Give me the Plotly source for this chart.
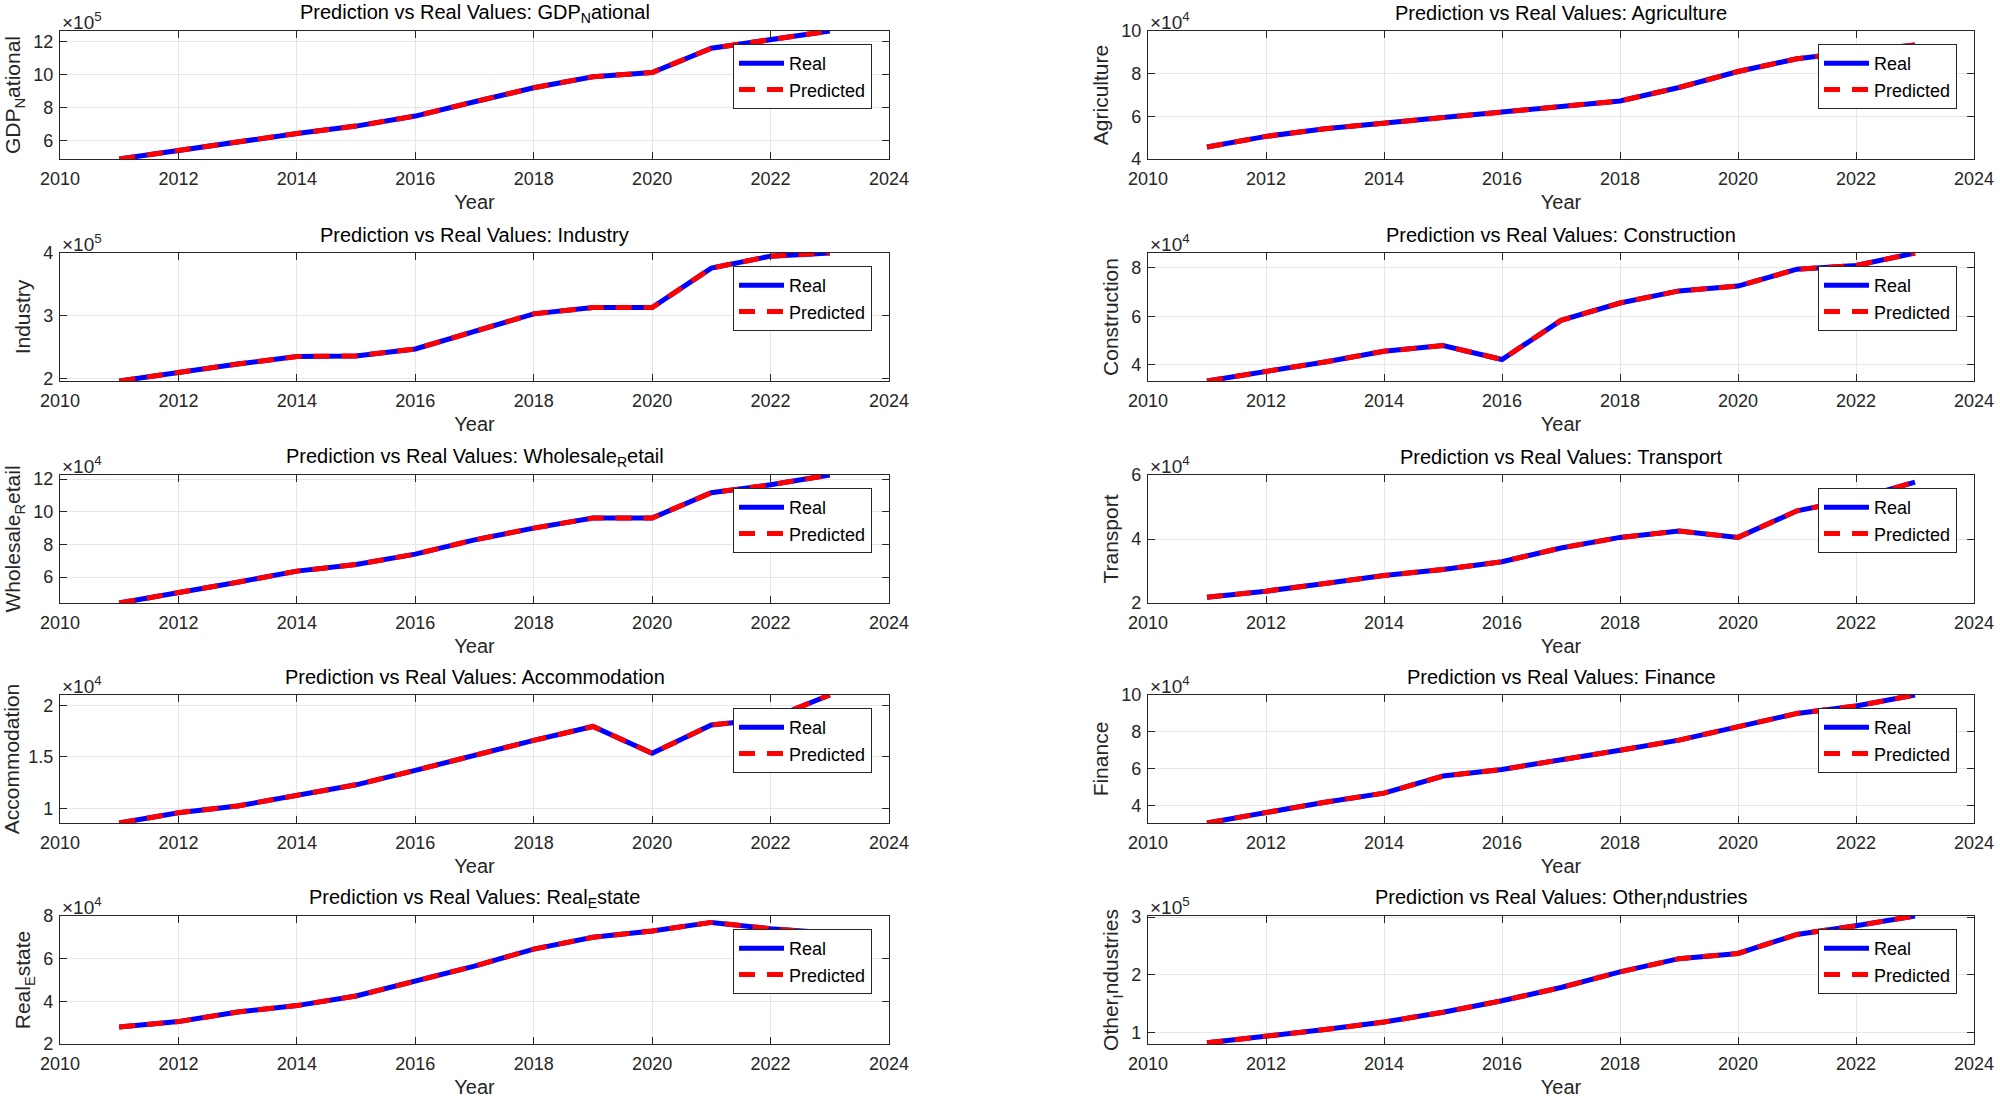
import plotly.graph_objects as go

W, H = 2000, 1102
FONT = "Liberation Sans, Arial, Helvetica, sans-serif"

years = list(range(2011, 2024))
x_ticks = [2010, 2012, 2014, 2016, 2018, 2020, 2022, 2024]

gdp_national = [4.87e5, 5.41e5, 5.92e5, 6.42e5, 6.87e5, 7.48e5, 8.35e5, 9.20e5, 9.87e5, 10.13e5, 11.60e5, 12.10e5, 12.65e5]
agriculture = [4.56e4, 5.06e4, 5.42e4, 5.70e4, 5.94e4, 6.20e4, 6.45e4, 6.72e4, 7.35e4, 8.10e4, 8.70e4, 9.05e4, 9.35e4]
industry = [1.96e5, 2.10e5, 2.23e5, 2.35e5, 2.36e5, 2.47e5, 2.76e5, 3.03e5, 3.13e5, 3.13e5, 3.76e5, 3.95e5, 4.00e5]
construction = [3.32e4, 3.70e4, 4.11e4, 4.55e4, 4.79e4, 4.21e4, 5.83e4, 6.55e4, 7.05e4, 7.25e4, 7.95e4, 8.10e4, 8.62e4]
wholesale_retail = [4.42e4, 5.03e4, 5.69e4, 6.37e4, 6.77e4, 7.41e4, 8.28e4, 9.00e4, 9.62e4, 9.62e4, 11.17e4, 11.65e4, 12.25e4]
transport = [2.18e4, 2.37e4, 2.61e4, 2.86e4, 3.05e4, 3.29e4, 3.72e4, 4.05e4, 4.25e4, 4.05e4, 4.88e4, 5.25e4, 5.78e4]
accommodation = [0.86e4, 0.96e4, 1.025e4, 1.13e4, 1.23e4, 1.37e4, 1.52e4, 1.66e4, 1.795e4, 1.535e4, 1.81e4, 1.87e4, 2.10e4]
finance = [3.05e4, 3.64e4, 4.18e4, 4.67e4, 5.60e4, 5.96e4, 6.45e4, 7.00e4, 7.55e4, 8.30e4, 9.00e4, 9.40e4, 10.0e4]
real_estate = [2.80e4, 3.05e4, 3.50e4, 3.80e4, 4.25e4, 4.95e4, 5.65e4, 6.45e4, 7.00e4, 7.30e4, 7.70e4, 7.40e4, 7.20e4]
other_industries = [0.82e5, 0.93e5, 1.05e5, 1.18e5, 1.35e5, 1.55e5, 1.78e5, 2.05e5, 2.28e5, 2.37e5, 2.70e5, 2.85e5, 3.02e5]

# Predicted values coincide with the real values in the picture
gdp_national_pred = list(gdp_national)
agriculture_pred = list(agriculture)
industry_pred = list(industry)
construction_pred = list(construction)
wholesale_retail_pred = list(wholesale_retail)
transport_pred = list(transport)
accommodation_pred = list(accommodation)
finance_pred = list(finance)
real_estate_pred = list(real_estate)
other_industries_pred = list(other_industries)

names = ["GDP<sub>N</sub>ational", "Agriculture", "Industry", "Construction",
         "Wholesale<sub>R</sub>etail", "Transport", "Accommodation", "Finance",
         "Real<sub>E</sub>state", "Other<sub>I</sub>ndustries"]
real_series = [gdp_national, agriculture, industry, construction, wholesale_retail,
               transport, accommodation, finance, real_estate, other_industries]
pred_series = [gdp_national_pred, agriculture_pred, industry_pred, construction_pred,
               wholesale_retail_pred, transport_pred, accommodation_pred, finance_pred,
               real_estate_pred, other_industries_pred]
exponents = [5, 4, 5, 4, 4, 4, 4, 4, 4, 5]
y_tick_labels = [["6", "8", "10", "12"], ["4", "6", "8", "10"], ["2", "3", "4"], ["4", "6", "8"],
                 ["6", "8", "10", "12"], ["2", "4", "6"], ["1", "1.5", "2"], ["4", "6", "8", "10"],
                 ["2", "4", "6", "8"], ["1", "2", "3"]]
# y limits in units of 10^exp (None = tight to data)
y_limits = [None, (4, 10), None, None, None, (2, 6), None, None, (2, 8), (0.80, 3.02)]

col_x = [(60, 889), (1148, 1974)]
row_top = [31, 253, 475, 695, 916]
row_h = 128

fig = go.Figure()
annotations = []
layout = {}

for i in range(10):
    r, c = divmod(i, 2)
    n = i + 1
    x0, x1 = col_x[c]
    t = row_top[r]
    b = t + row_h
    xa = "x" if n == 1 else f"x{n}"
    ya = "y" if n == 1 else f"y{n}"
    leg = "legend" if n == 1 else f"legend{n}"
    scale = 10 ** exponents[i]
    real = real_series[i]
    pred = pred_series[i]

    fig.add_trace(go.Scatter(x=years, y=real, mode="lines", name="Real",
                             line=dict(color="#0000ff", width=5),
                             xaxis=xa, yaxis=ya, legend=leg))
    fig.add_trace(go.Scatter(x=years, y=pred, mode="lines", name="Predicted",
                             line=dict(color="#ff0000", width=5, dash="16px,12px"),
                             xaxis=xa, yaxis=ya, legend=leg))

    if y_limits[i] is None:
        yr = [min(real), max(real)]
    else:
        yr = [y_limits[i][0] * scale, y_limits[i][1] * scale]
    tickvals = [float(v) * scale for v in y_tick_labels[i]]

    axis_common = dict(showline=True, linecolor="#262626", linewidth=1.2, mirror="ticks",
                       ticks="inside", ticklen=7, tickcolor="#262626", tickwidth=1.2,
                       showgrid=True, gridcolor="#e6e6e6", gridwidth=1, zeroline=False,
                       tickfont=dict(family=FONT, size=18, color="#262626"),
                       automargin=False)
    layout["xaxis" if n == 1 else f"xaxis{n}"] = dict(
        domain=[x0 / W, x1 / W], anchor=ya, range=[2010, 2024],
        tickvals=x_ticks, ticktext=[str(v) for v in x_ticks], ticklabelstandoff=3,
        title=dict(text="Year", font=dict(family=FONT, size=20, color="#262626"), standoff=7),
        **axis_common)
    layout["yaxis" if n == 1 else f"yaxis{n}"] = dict(
        domain=[1 - b / H, 1 - t / H], anchor=xa, range=yr,
        tickvals=tickvals, ticktext=y_tick_labels[i], ticklabelstandoff=2,
        title=dict(text=names[i], font=dict(family=FONT, size=21, color="#262626"), standoff=6),
        **axis_common)
    layout[leg] = dict(x=(x1 - 17) / W, xanchor="right", y=1 - (t + 13) / H, yanchor="top",
                       bgcolor="white", bordercolor="#262626", borderwidth=1,
                       font=dict(family=FONT, size=18, color="black"),
                       tracegroupgap=0, itemwidth=45)

    annotations.append(dict(text="Prediction vs Real Values: " + names[i],
                            x=(x0 + x1) / 2 / W, y=1 - (t - 18) / H, xref="paper", yref="paper",
                            xanchor="center", yanchor="middle", showarrow=False,
                            font=dict(family=FONT, size=20, color="black")))
    annotations.append(dict(text=f"×10<sup>{exponents[i]}</sup>",
                            x=x0 / W, y=1 - (t + 4) / H, xref="paper", yref="paper",
                            xanchor="left", yanchor="bottom", showarrow=False,
                            font=dict(family=FONT, size=19, color="#262626")))

fig.update_layout(width=W, height=H, autosize=False,
                  margin=dict(l=0, r=0, t=0, b=0),
                  paper_bgcolor="white", plot_bgcolor="white",
                  showlegend=True, annotations=annotations, **layout)

fig.write_html("out.html", config={"displayModeBar": False},
               post_script="document.body.style.margin='0px';document.body.style.overflow='hidden';")
